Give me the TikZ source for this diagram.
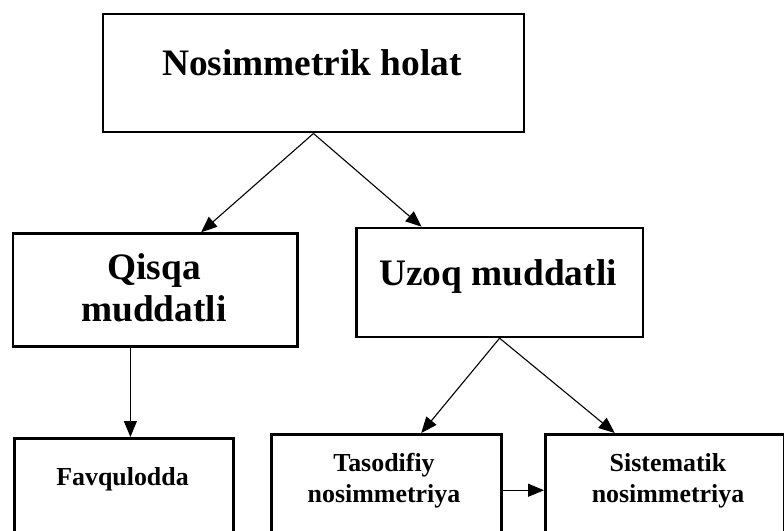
\documentclass[tikz,border=0pt]{standalone}
\usepackage{fontspec}
\setmainfont{Liberation Serif}
\usetikzlibrary{arrows.meta,calc}
\begin{document}
\begin{tikzpicture}[x=1bp,y=-1bp,
  box/.style={draw,line width=2.5bp,inner sep=0pt,anchor=north west},
  big/.style={font=\fontsize{37.5}{42}\selectfont\bfseries,align=center,inner sep=0pt},
  small/.style={font=\fontsize{26}{31}\selectfont\bfseries,align=center,inner sep=0pt},
  arr/.style={line width=1.1bp,-{Triangle[length=16bp,width=13bp]}}]
\useasboundingbox (0,0) rectangle (784,531);
% boxes
\node[box,minimum width=421bp,minimum height=118bp] (top) at (101.7,13) {};
\node[box,minimum width=284.3bp,minimum height=112.7bp] (qisqa) at (11.7,232.3) {};
\node[box,minimum width=286.7bp,minimum height=109bp] (uzoq) at (355,226.7) {};
\node[box,minimum width=219bp,minimum height=108bp] (fav) at (13,437) {};
\node[box,minimum width=230bp,minimum height=112bp] (tas) at (270,433) {};
\node[box,minimum width=239bp,minimum height=112bp] (sis) at (544,433) {};
% texts
\node[big] (toptxt) at (312,63) {Nosimmetrik holat};
\node[big] (qtxt) at (154,287.5) {Qisqa\\muddatli};
\node[big] (utxt) at (498,276.7) {Uzoq muddatli};
\node[small] (ftxt) at (122.5,479.5) {Favqulodda};
\node[small] (ttxt) at (384,480.5) {Tasodifiy\\nosimmetriya};
\node[small] (stxt) at (668,480.5) {Sistematik\\nosimmetriya};
% connectors
\draw[arr] (top.south) -- ([xshift=46bp]qisqa.north);
\draw[arr] (top.south) -- ([xshift=-78bp]uzoq.north);
\draw[arr] ([xshift=-24.7bp]qisqa.south) -- ([xshift=-24.7bp]qisqa.south |- fav.north);
\draw[arr] (uzoq.south) -- ([xshift=35bp]tas.north);
\draw[arr] (uzoq.south) -- ([xshift=-50bp]sis.north);
\draw[arr] (tas.east) -- (sis.west);
\end{tikzpicture}
\end{document}
